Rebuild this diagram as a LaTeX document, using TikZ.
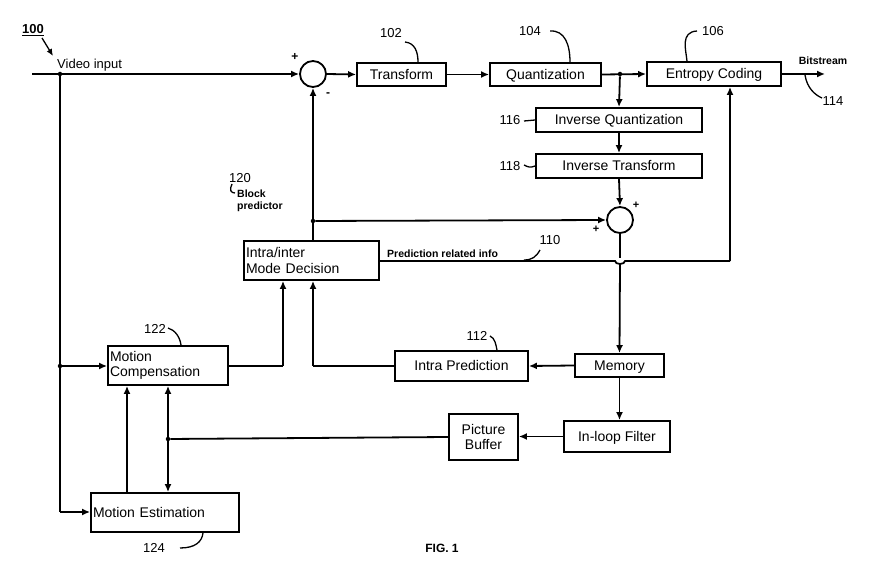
\documentclass[tikz,border=0pt]{standalone}
\usepackage{fontspec}
\setmainfont{Liberation Sans}
\usetikzlibrary{arrows.meta}
\begin{document}
\begin{tikzpicture}[x=1pt,y=-1pt,
  box/.style={draw,line width=1.8pt,inner sep=0pt,font=\fontsize{14}{15.5}\selectfont,text height=10pt,text depth=0pt},
  sm/.style={draw,line width=1.8pt,circle,minimum size=26pt,inner sep=0pt},
  ln/.style={line width=1.8pt},
  ar/.style={ln,-{Latex[length=8pt,width=7pt]}},
  lab/.style={font=\fontsize{13}{14}\selectfont,inner sep=0pt},
  slab/.style={font=\bfseries\fontsize{10.5}{12}\selectfont,inner sep=0pt,align=left},
  dot/.style={circle,fill,inner sep=0pt,minimum size=4.5pt},
  cv/.style={line width=1.3pt}]
\useasboundingbox (0,0) rectangle (884,577);
% boxes
\node[box,minimum width=89pt,minimum height=23pt] (tr) at (401.5,74.5) {Transform};
\node[box,minimum width=111pt,minimum height=23pt] (qu) at (545.5,74.5) {Quantization};
\node[box,minimum width=134pt,minimum height=24pt] (ec) at (714,74) {Entropy Coding};
\node[box,minimum width=166pt,minimum height=24pt] (iq) at (619,120) {Inverse Quantization};
\node[box,minimum width=166pt,minimum height=24pt] (it) at (619,166) {Inverse Transform};
\node[box,minimum width=135pt,minimum height=39pt,align=left,text width=131pt,text height=,text depth=] (md) at (311.5,260.5) {Intra/inter\\Mode Decision};
\node[box,minimum width=89pt,minimum height=23pt] (mem) at (619.5,365.5) {Memory};
\node[box,minimum width=133pt,minimum height=30pt] (ip) at (461.5,366) {Intra Prediction};
\node[box,minimum width=120pt,minimum height=39pt,align=left,text width=116pt,text height=,text depth=] (mc) at (168,365.5) {Motion\\Compensation};
\node[box,minimum width=148pt,minimum height=39pt,align=left,text width=144pt] (me) at (165,512.5) {Motion Estimation};
\node[box,minimum width=69pt,minimum height=46pt,align=center,text height=,text depth=] (pb) at (483.5,437) {Picture\\Buffer};
\node[box,minimum width=106pt,minimum height=31pt] (lf) at (617,436.5) {In-loop Filter};
\node[sm] (s1) at (313,74) {};
\node[sm] (s2) at (620,220) {};
% coordinates
\coordinate (in) at (32,74);
\node[dot] (d0) at (60,74) {};
\node[dot] (d1) at (60,366) {};
\coordinate (d2) at (60,512);
\node[dot] (d3) at (620,74) {};
\node[dot] (d4) at (313,221) {};
\node[dot] (d5) at (168,439) {};
\coordinate (bs) at (825,74);
\coordinate (c730) at (730,261);
\coordinate (c283) at (283,366);
\coordinate (c313) at (313,366);
% connectors
\draw[ar] (in) -- (s1.west);
\draw[ar] (s1.east) -- (tr.west);
\draw[ar] (tr.east) -- (qu.west);
\draw[ar] (qu.east) -- (ec.west);
\draw[ar] (ec.east) -- (bs);
\draw[ar] (d3) -- (iq.north);
\draw[ar] (iq.south) -- (it.north);
\draw[ar] (it.south) -- (s2.north);
\draw[ar] (d4) -- (s2.west);
\draw[ar] (md.north -| s1) -- (s1.south);
\draw[ln] (md.east |- c730) -- (615,261) arc (180:0:5 and 3) -- (c730);
\draw[ar] (c730) -- (ec.south -| c730);
\draw[ln] (s2.south) -- (620,258);
\draw[ar] (620,264) -- (mem.north);
\draw[ar] (mem.west) -- (ip.east);
\draw[ln] (ip.west) -- (c313);
\draw[ar] (c313) -- (md.south -| c313);
\draw[ln] (mc.east |- c283) -- (c283);
\draw[ar] (c283) -- (md.south -| c283);
\draw[ln] (d0) -- (d2);
\draw[ar] (d1) -- (mc.west |- d1);
\draw[ar] (d2) -- (me.west |- d2);
\draw[ar] (me.north -| 127,0) -- (mc.south -| 127,0);
\draw[ln,{Latex[length=8pt,width=7pt]}-{Latex[length=8pt,width=7pt]}] (mc.south -| d5) -- (me.north -| d5);
\draw[ln] (pb.west) -- (d5);
\draw[ar] (mem.south) -- (lf.north -| mem);
\draw[ar] (lf.west) -- (pb.east |- lf);
% labels
\node[lab,font=\bfseries\fontsize{13}{14}\selectfont] (l100) at (33,30) {\underline{100}};
\draw[cv,-{Latex[length=7pt,width=6pt]}] (42,38) -- (53,56);
\node[lab,anchor=west] (vi) at (57,65) {Video input};
\node[lab,font=\bfseries\fontsize{12}{13}\selectfont] at (295,57) {+};
\node[lab,font=\bfseries\fontsize{12}{13}\selectfont] at (328,95) {-};
\node[lab,font=\bfseries\fontsize{11}{12}\selectfont] at (636,205) {+};
\node[lab,font=\bfseries\fontsize{11}{12}\selectfont] at (596,229) {+};
\node[lab] (l102) at (391,33) {102};
\draw[cv] (405,42) .. controls (415,43) and (418,52) .. (tr.north -| 418,0);
\node[lab] (l104) at (530,31) {104};
\draw[cv] (550,31) .. controls (565,30) and (570,45) .. (qu.north -| 570,0);
\node[lab] (l106) at (713,31) {106};
\draw[cv] (697,31) .. controls (680,32) and (686,50) .. (ec.north -| 687,0);
\node[slab] (lbs) at (823,61) {Bitstream};
\node[lab] (l114) at (833,101) {114};
\draw[cv] (805,75) .. controls (807,88) and (815,95) .. (822,98);
\node[lab] (l116) at (510,120) {116};
\draw[cv] (524,121) -- (iq.west);
\node[lab] (l118) at (510,166) {118};
\draw[cv] (524,165) .. controls (528,167) and (530,168) .. (it.west);
\node[lab] (l120) at (240,178) {120};
\draw[cv] (232,184) .. controls (229,190) and (231,193) .. (235,193);
\node[slab,anchor=north west] (lbp) at (237,190) {Block\\predictor};
\node[slab,anchor=west] (lpr) at (387,254) {Prediction related info};
\node[lab] (l110) at (550,240) {110};
\draw[cv] (540,250) .. controls (536,257) and (532,260) .. (524,260);
\node[lab] (l122) at (155,329) {122};
\draw[cv] (168,328) .. controls (175,330) and (180,337) .. (mc.north -| 181,0);
\node[lab] (l112) at (477,336) {112};
\draw[cv] (490,336) .. controls (495,338) and (496,345) .. (ip.north -| 497,0);
\node[lab] (l124) at (154,548) {124};
\draw[cv] (180,548) .. controls (195,548) and (202,542) .. (me.south -| 203,0);
\node[lab,font=\bfseries\fontsize{12}{13}\selectfont] (fig) at (442,548) {FIG. 1};
\end{tikzpicture}
\end{document}
